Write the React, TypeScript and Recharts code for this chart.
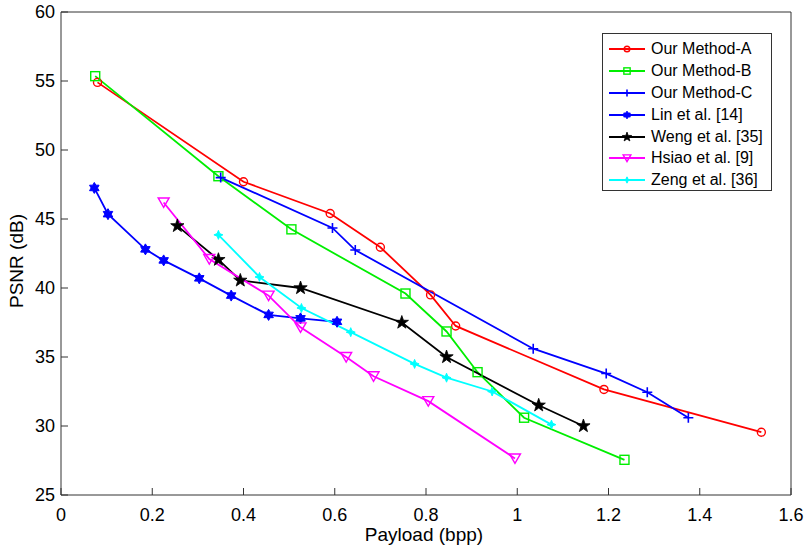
import React from 'react';
import { LineChart, Line, XAxis, YAxis, Legend } from 'recharts';

// payload (bpp) / PSNR (dB)
const methodAX = [0.08, 0.4, 0.59, 0.7, 0.81, 0.865, 1.19, 1.535];
const methodAY = [54.9, 47.7, 45.4, 42.95, 39.5, 37.25, 32.65, 29.55];
const methodBX = [0.075, 0.345, 0.505, 0.755, 0.845, 0.913, 1.015, 1.235];
const methodBY = [55.35, 48.1, 44.25, 39.6, 36.85, 33.9, 30.6, 27.55];
const methodCX = [0.35, 0.595, 0.645, 1.035, 1.195, 1.285, 1.375];
const methodCY = [48.0, 44.35, 42.75, 35.6, 33.8, 32.45, 30.6];
const linX = [0.073, 0.103, 0.185, 0.225, 0.303, 0.373, 0.455, 0.525, 0.605];
const linY = [47.25, 45.35, 42.8, 42.0, 40.7, 39.45, 38.05, 37.8, 37.55];
const wengX = [0.255, 0.345, 0.393, 0.525, 0.747, 0.845, 1.047, 1.145];
const wengY = [44.5, 42.05, 40.55, 40.0, 37.5, 35.0, 31.5, 30.0];
const hsiaoX = [0.225, 0.325, 0.455, 0.525, 0.625, 0.685, 0.805, 0.995];
const hsiaoY = [46.2, 42.1, 39.45, 37.15, 35.0, 33.6, 31.8, 27.65];
const zengX = [0.345, 0.435, 0.527, 0.635, 0.775, 0.845, 0.945, 1.075];
const zengY = [43.85, 40.8, 38.55, 36.8, 34.5, 33.5, 32.5, 30.1];

const xTicks = [0, 0.2, 0.4, 0.6, 0.8, 1, 1.2, 1.4, 1.6];
const yTicks = [25, 30, 35, 40, 45, 50, 55, 60];

const FONT = '"Liberation Sans", Arial, Helvetica, sans-serif';
const AXIS = '#333';

const zip = (xs: number[], ys: number[]) => xs.map((x, i) => ({ x, y: ys[i] }));

const starPoints = (cx: number, cy: number, n: number, ro: number, ri: number) => {
  const pts: string[] = [];
  for (let i = 0; i < n * 2; i++) {
    const r = i % 2 === 0 ? ro : ri;
    const a = -Math.PI / 2 + (i * Math.PI) / n;
    pts.push(`${cx + r * Math.cos(a)},${cy + r * Math.sin(a)}`);
  }
  return pts.join(' ');
};

type Shape = 'circle' | 'square' | 'plus' | 'hexagram' | 'pentagram' | 'triangle' | 'diamond';

function marker(shape: Shape, cx: number, cy: number, color: string, s: number, key?: string) {
  switch (shape) {
    case 'circle':
      return <circle key={key} cx={cx} cy={cy} r={4 * s} fill="none" stroke={color} strokeWidth={1.4} />;
    case 'square':
      return <rect key={key} x={cx - 4.5 * s} y={cy - 4.5 * s} width={9 * s} height={9 * s} fill="none" stroke={color} strokeWidth={1.4} />;
    case 'plus':
      return (
        <path key={key} d={`M${cx - 5 * s},${cy}H${cx + 5 * s}M${cx},${cy - 5 * s}V${cy + 5 * s}`} stroke={color} strokeWidth={1.6} />
      );
    case 'hexagram':
      return <polygon key={key} points={starPoints(cx, cy, 6, 5.5 * s, 3.2 * s)} fill={color} stroke={color} strokeWidth={1} />;
    case 'pentagram':
      return <polygon key={key} points={starPoints(cx, cy, 5, 7 * s, 2.8 * s)} fill={color} stroke={color} strokeWidth={0.8} />;
    case 'triangle':
      return (
        <polygon
          key={key}
          points={`${cx - 5.5 * s},${cy - 4.5 * s} ${cx + 5.5 * s},${cy - 4.5 * s} ${cx},${cy + 5 * s}`}
          fill="none"
          stroke={color}
          strokeWidth={1.4}
        />
      );
    default:
      return <polygon key={key} points={starPoints(cx, cy, 4, 4.5 * s, 1.8 * s)} fill={color} stroke={color} strokeWidth={1} />;
  }
}

const series: { name: string; xs: number[]; ys: number[]; color: string; shape: Shape }[] = [
  { name: 'Our Method-A', xs: methodAX, ys: methodAY, color: '#ff0000', shape: 'circle' },
  { name: 'Our Method-B', xs: methodBX, ys: methodBY, color: '#00ee00', shape: 'square' },
  { name: 'Our Method-C', xs: methodCX, ys: methodCY, color: '#0000ff', shape: 'plus' },
  { name: 'Lin et al. [14]', xs: linX, ys: linY, color: '#0000ff', shape: 'hexagram' },
  { name: 'Weng et al. [35]', xs: wengX, ys: wengY, color: '#000000', shape: 'pentagram' },
  { name: 'Hsiao et al. [9]', xs: hsiaoX, ys: hsiaoY, color: '#ff00ff', shape: 'triangle' },
  { name: 'Zeng et al. [36]', xs: zengX, ys: zengY, color: '#00ffff', shape: 'diamond' },
];

function LegendBox() {
  return (
    <div
      style={{
        width: 168,
        height: 152,
        paddingTop: 4,
        border: `1px solid ${AXIS}`,
        background: '#fff',
        fontFamily: FONT,
        fontSize: 16,
        color: '#000',
      }}
    >
      {series.map((s) => (
        <div key={s.name} style={{ height: 21.9, display: 'flex', alignItems: 'center' }}>
          <svg width={48} height={20} style={{ display: 'block' }}>
            <line x1={6} y1={10} x2={42} y2={10} stroke={s.color} strokeWidth={1.8} />
            {marker(s.shape, 24, 10, s.color, 0.7)}
          </svg>
          <span style={{ whiteSpace: 'nowrap' }}>{s.name}</span>
        </div>
      ))}
    </div>
  );
}

export default function App() {
  const tickStyle = { fontSize: 18, fill: '#000', fontFamily: FONT };
  const hidden = { fontSize: 1, fill: 'none' };
  return (
    <div style={{ position: 'absolute', left: 0, top: 0, background: '#fff' }}>
      <LineChart width={807} height={549} margin={{ top: 11, right: 15, bottom: 0, left: 0 }}>
        {/* negative tick sizes turn the ticks inward, matlab style */}
        <XAxis
          type="number"
          dataKey="x"
          domain={[0, 1.6]}
          ticks={xTicks}
          height={54}
          tickSize={-7}
          tickMargin={20}
          tickLine={{ stroke: AXIS }}
          axisLine={{ stroke: AXIS }}
          tick={tickStyle}
          allowDataOverflow
          label={{
            content: () => (
              <text x={424} y={541} textAnchor="middle" fontSize={19} fontFamily={FONT} fill="#000">
                Payload (bpp)
              </text>
            ),
          }}
        />
        <YAxis
          type="number"
          dataKey="y"
          domain={[25, 60]}
          ticks={yTicks}
          width={61}
          tickSize={-7}
          tickMargin={13}
          tickLine={{ stroke: AXIS }}
          axisLine={{ stroke: AXIS }}
          tick={tickStyle}
          allowDataOverflow
          label={{
            content: () => (
              <text
                x={16}
                y={261}
                transform="rotate(-90 16 261)"
                textAnchor="middle"
                dominantBaseline="central"
                fontSize={19}
                fontFamily={FONT}
                fill="#000"
              >
                PSNR (dB)
              </text>
            ),
          }}
        />
        <XAxis xAxisId="top" type="number" domain={[0, 1.6]} ticks={xTicks} orientation="top" height={1} tick={hidden} tickSize={-7} axisLine={{ stroke: AXIS }} tickLine={{ stroke: AXIS }} />
        <YAxis yAxisId="right" type="number" domain={[25, 60]} ticks={yTicks} orientation="right" width={1} tick={hidden} tickSize={-7} axisLine={{ stroke: AXIS }} tickLine={{ stroke: AXIS }} />
        {series.map((s) => (
          <Line
            key={s.name}
            name={s.name}
            data={zip(s.xs, s.ys)}
            dataKey="y"
            type="linear"
            stroke={s.color}
            strokeWidth={1.8}
            isAnimationActive={false}
            dot={(p: any) => marker(s.shape, p.cx, p.cy, s.color, 1, `${s.name}-${p.index}`)}
            activeDot={false}
          />
        ))}
        <Legend
          layout="vertical"
          align="center"
          verticalAlign="middle"
          content={() => <LegendBox />}
          wrapperStyle={{ position: 'absolute', left: 602, top: 33, width: 170, height: 157 }}
        />
      </LineChart>
    </div>
  );
}
